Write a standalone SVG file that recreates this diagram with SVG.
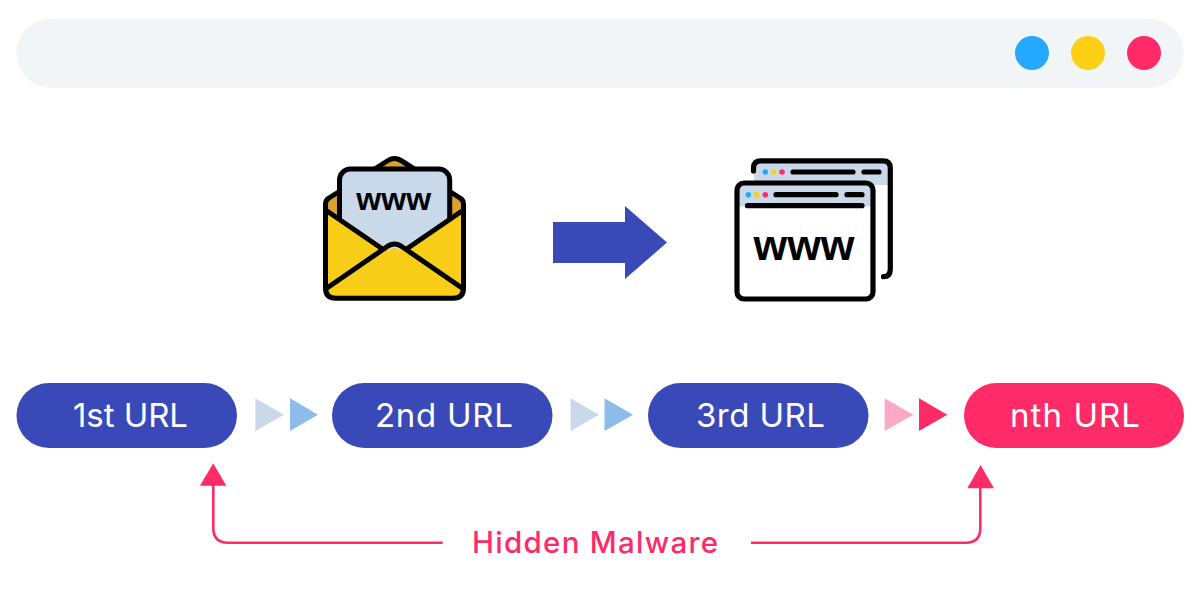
<svg xmlns="http://www.w3.org/2000/svg" width="1200" height="601" viewBox="0 0 1200 601">
<style>
.ink{fill:none;stroke:#000;stroke-linecap:round;stroke-linejoin:round}
.pill{fill:#3949b8}
.lbl{font-family:Inter,"Noto Sans",sans-serif;font-size:33px;fill:#fff;text-anchor:middle;font-weight:400}
.www{font-family:"Liberation Sans",Arial,sans-serif;font-weight:700;fill:#000}
.pink{fill:#ff2a68}
.conn{fill:none;stroke:#ff2a68;stroke-width:2.6}
</style>
<rect width="1200" height="601" fill="#fff"/>
<g id="browser-bar">
<rect x="16.500" y="18.500" width="1167.500" height="69.500" rx="34.700" fill="#f2f5f8"/>
<circle cx="1032" cy="53" r="17" fill="#25a9ff"/>
<circle cx="1088" cy="53" r="17" fill="#fbd016"/>
<circle cx="1144" cy="53" r="17" fill="#ff2a68"/>
</g>
<g id="email-icon">
<path d="M325.500 204 Q325.500 200 329 198 L388 160.500 Q394.500 156.500 401 160.500 L460 198 Q463.500 200 463.500 204 L463.500 240 L325.500 240Z" fill="#d9a22e" stroke="#000" stroke-width="5" stroke-linejoin="round"/>
<rect x="339.500" y="169" width="110.200" height="100" rx="11" fill="#c9d9ea" stroke="#000" stroke-width="5"/>
<path d="M325.500 208 L390 251 Q394.500 244 399 251 L463.500 208 L463.500 288 Q463.500 298.300 453 298.300 L336 298.300 Q325.500 298.300 325.500 288Z" fill="#f9ce18"/>
<path class="ink" stroke-width="5" d="M325.500 210 L381 248 M463.500 210 L408 248 M327 288 L388 246 Q394.500 242 401 246 L462 288"/>
<path d="M325.500 208 L325.500 288 Q325.500 298.300 336 298.300 L453 298.300 Q463.500 298.300 463.500 288 L463.500 208" class="ink" stroke-width="5"/>
<text class="www" x="393.700" y="210" font-size="32" text-anchor="middle">www</text>
</g>
<g id="arrow-icon">
<path d="M553 222 H625 V206 L667 242.500 L625 279 V263 H553Z" fill="#3949b8"/>
</g>
<g id="browser-windows-icon">
<rect x="754" y="163" width="134" height="22" fill="#c9d9ea"/>
<path class="ink" stroke-width="5.200" d="M753.500 171 V168 Q753.500 160.800 761 160.800 H883 Q890.300 160.800 890.300 168 V269 Q890.300 276.700 883.500 276.700"/>
<circle cx="765.300" cy="172" r="2.800" fill="#25a9ff"/>
<circle cx="773.700" cy="172" r="2.800" fill="#fbd016"/>
<circle cx="782" cy="172" r="2.800" fill="#ff2a68"/>
<path class="ink" stroke-width="5.200" d="M793 172 H853 M864 172 H879"/>
<rect x="737" y="183" width="136" height="116" rx="7" fill="#fff"/>
<path d="M737 206.500 V190 Q737 183 744 183 H866 Q873 183 873 190 V206.500Z" fill="#c9d9ea"/>
<rect x="737" y="183" width="136" height="116" rx="7" class="ink" stroke-width="5.200"/>
<circle cx="748.300" cy="194.700" r="2.800" fill="#25a9ff"/>
<circle cx="756.700" cy="194.700" r="2.800" fill="#fbd016"/>
<circle cx="765.300" cy="194.700" r="2.800" fill="#ff2a68"/>
<path class="ink" stroke-width="5.200" d="M776 194.700 H836 M847 194.700 H862 M747.500 205.700 H862"/>
<text class="www" x="804" y="260" font-size="43.300" text-anchor="middle">www</text>
</g>
<g id="url-1"><rect class="pill" x="16.500" y="383" width="220.500" height="65" rx="32.500"/><text class="lbl" x="130.500" y="427" textLength="115">1st URL</text></g>
<g id="url-2"><rect class="pill" x="332" y="383" width="220.500" height="65" rx="32.500"/><text class="lbl" x="444" y="427" textLength="138">2nd URL</text></g>
<g id="url-3"><rect class="pill" x="648" y="383" width="220.500" height="65" rx="32.500"/><text class="lbl" x="760.500" y="427" textLength="129">3rd URL</text></g>
<g id="url-n"><rect class="pink" x="964" y="383" width="220" height="65" rx="32.500"/><text class="lbl" x="1075" y="427" textLength="130">nth URL</text></g>
<g id="hidden-malware"><text x="595" y="552.500" font-family="Inter,'Noto Sans',sans-serif" font-size="29.500" font-weight="500" fill="#ff2a68" text-anchor="middle" textLength="246">Hidden Malware</text></g>
<g id="connectors">
<path d="M255.300 398.300 L284 414.700 L255.300 431Z" fill="#c9d9ea"/>
<path d="M290 398.300 L318 414.700 L290 431Z" fill="#8dbce8"/>
<path d="M570.500 398.300 L599 414.700 L570.500 431Z" fill="#c9d9ea"/>
<path d="M604.500 398.300 L633 414.700 L604.500 431Z" fill="#8dbce8"/>
<path d="M884.700 398.300 L913.300 414.700 L884.700 431Z" fill="#fba9c7"/>
<path d="M919 398.300 L947.300 414.700 L919 431Z" fill="#ff2a68"/>
<path class="conn" d="M213.300 484 V528 Q213.300 542.700 228 542.700 H442.700"/>
<path class="pink" d="M213.200 463.300 L226.300 485.700 H200Z"/>
<path class="conn" d="M980.300 486 V528 Q980.300 542.700 966 542.700 H751"/>
<path class="pink" d="M980.600 465 L994 488.300 H967.300Z"/>
</g>
</svg>
